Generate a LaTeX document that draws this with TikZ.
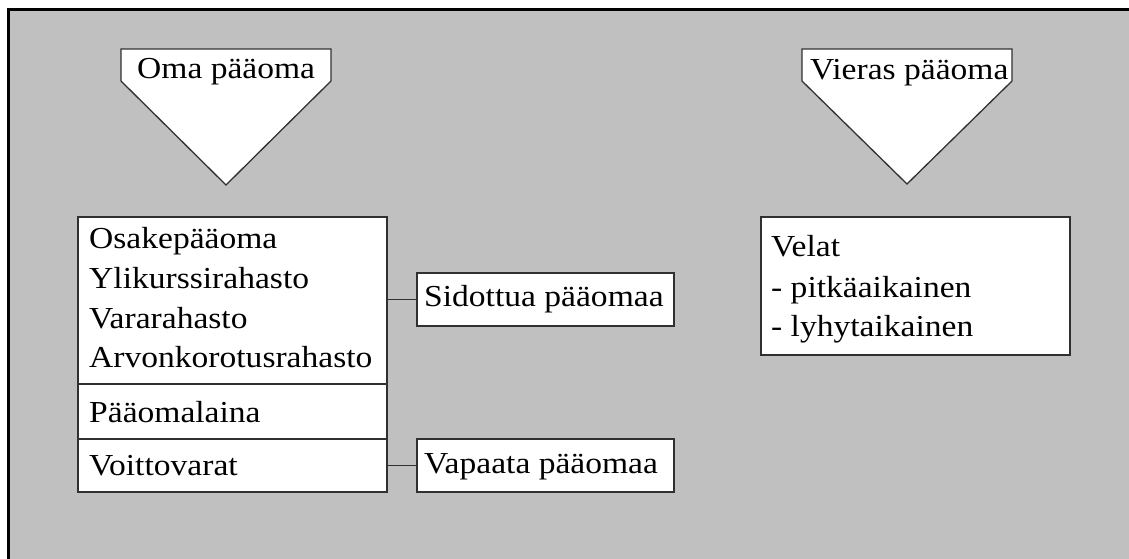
\documentclass[tikz,border=0pt]{standalone}
\usepackage{fontspec}
\setmainfont[FakeStretch=1.1]{Liberation Serif}
\definecolor{panelgray}{HTML}{C0C0C0}
\definecolor{edge}{HTML}{303030}
\tikzset{
  x=1pt, y=-1pt,
  edgeline/.style={draw=edge, line width=1.3pt},
  whitebox/.style={edgeline, fill=white, rectangle, inner sep=0pt},
  label/.style={anchor=base west, inner sep=0pt, font=\fontsize{30.5}{40}\selectfont},
  link/.style={edgeline}
}
\begin{document}
\begin{tikzpicture}
\useasboundingbox (0,0) rectangle (1129,559);
% background panel with heavy frame on the visible edges
\fill[panelgray] (8,10) rectangle (1129,559);
\draw[line width=3pt, black] (8,559) -- (8,10) -- (1129,10);

% arrow-shaped heading tags
\draw[edgeline, fill=white] (121,49) -- (331,49) -- (331,81) -- (226,185) -- (121,81) -- cycle;
\node[label] (oma) at (137,79) {Oma pääoma};
\draw[edgeline, fill=white] (802,49) -- (1012,49) -- (1012,81) -- (907,184) -- (802,81) -- cycle;
\node[label] (vieras) at (810,80) {Vieras pääoma};

% equity items
\node[whitebox, minimum width=309pt, minimum height=275pt] (eq) at (232.5,354.5) {};
\draw[edgeline] (eq.west |- 0,384) -- (eq.east |- 0,384);
\draw[edgeline] (eq.west |- 0,439) -- (eq.east |- 0,439);
\node[label] (l1) at (89,248) {Osakepääoma};
\node[label] (l2) at (89,288) {Ylikurssirahasto};
\node[label] (l3) at (89,328) {Vararahasto};
\node[label] (l4) at (89,367) {Arvonkorotusrahasto};
\node[label] (l5) at (89,422) {Pääomalaina};
\node[label] (l6) at (89,475) {Voittovarat};

% equity groups
\node[whitebox, minimum width=257pt, minimum height=53pt] (sid) at (545.5,299.5) {};
\node[label] at (424,306) {Sidottua pääomaa};
\node[whitebox, minimum width=257pt, minimum height=53pt] (vap) at (545.5,465.5) {};
\node[label] at (424,473) {Vapaata pääomaa};
\draw[link] (eq.east |- sid.west) -- (sid.west);
\draw[link] (eq.east |- vap.west) -- (vap.west);

% liabilities
\node[whitebox, minimum width=309pt, minimum height=138pt] (debt) at (915.5,286) {};
\node[label] (d1) at (771,256) {Velat};
\node[label] (d2) at (771,297) {- pitkäaikainen};
\node[label] (d3) at (771,336) {- lyhytaikainen};
\end{tikzpicture}
\end{document}
